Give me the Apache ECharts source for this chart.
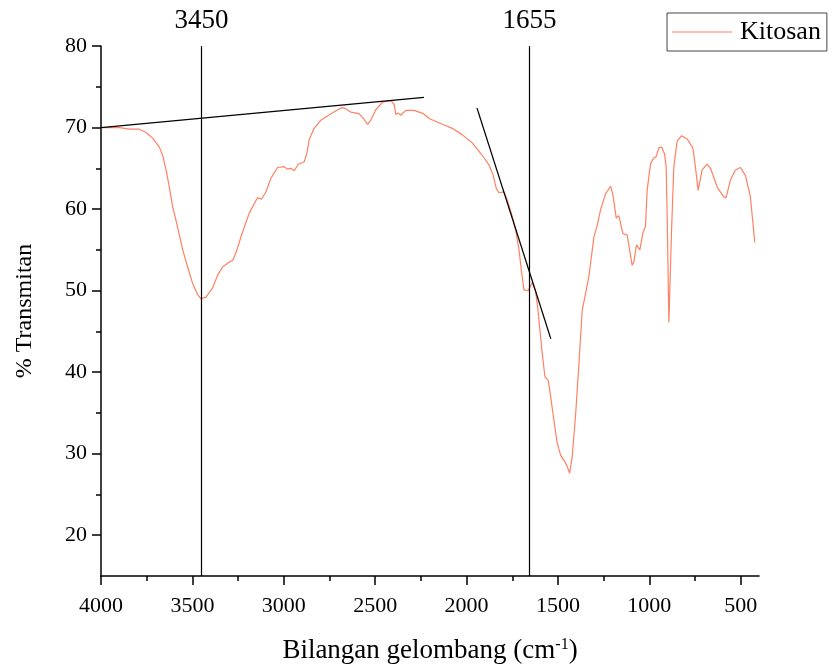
<!DOCTYPE html>
<html>
<head>
<meta charset="utf-8">
<title>Kitosan FTIR</title>
<script src="https://cdn.jsdelivr.net/npm/echarts@6/dist/echarts.min.js"></script>
<style>
    html, body { margin: 0; padding: 0; background: #fff; }
    #chart { width: 830px; height: 666px; }
</style>
</head>
<body>
<div id="chart"></div>
<script>
    // bilangan gelombang (cm-1)
    var wavenumber = [4000,3954,3899,3845,3790,3754,3717,3681,3663,3644,
        3626,3608,3581,3553,3526,3499,3471,3453,3426,3390,
        3362,3335,3298,3280,3262,3234,3189,3144,3122,3098,
        3070,3034,2998,2980,2961,2943,2921,2888,2874,2861,
        2834,2797,2742,2688,2670,2633,2588,2560,2542,2524,
        2496,2460,2414,2396,2387,2375,2360,2332,2287,2236,
        2205,2132,2078,2023,1968,1914,1877,1855,1837,1823,
        1795,1777,1750,1731,1713,1698,1686,1662,1641,1622,
        1609,1604,1586,1571,1553,1540,1522,1504,1485,1462,
        1449,1436,1422,1403,1385,1367,1345,1331,1303,1285,
        1267,1239,1212,1199,1181,1167,1145,1121,1108,1094,
        1085,1070,1052,1036,1021,1012,993,975,963,948,
        933,917,908,903,893,879,866,848,824,793,
        762,748,733,711,684,665,629,593,580,556,
        529,501,474,447,423];
    // % transmitan
    var transmitan = [70.0,70.0,70.0,69.8,69.8,69.4,68.7,67.6,66.6,64.8,
        62.7,60.3,57.8,55.0,52.9,50.9,49.5,49.0,49.2,50.3,
        51.9,52.9,53.5,53.7,54.6,56.6,59.5,61.4,61.2,62.1,
        63.8,65.1,65.2,64.9,65.0,64.7,65.5,65.8,66.8,68.5,
        69.9,70.9,71.7,72.4,72.4,71.9,71.7,71.0,70.4,70.9,
        72.2,73.1,73.3,72.8,71.6,71.8,71.5,72.1,72.1,71.7,
        71.1,70.4,69.9,69.1,68.1,66.6,65.4,64.2,62.5,62.0,
        62.1,61.1,59.1,57.4,55.0,52.1,50.1,50.0,51.0,49.9,
        47.6,46.4,42.3,39.4,39.0,37.0,34.1,31.3,29.8,29.0,
        28.4,27.6,29.6,34.9,41.1,47.6,50.1,51.7,56.6,58.0,
        59.9,61.9,62.8,61.7,58.9,59.2,57.0,56.8,55.0,53.1,
        53.5,55.6,55.0,57.0,57.9,62.3,65.6,66.3,66.4,67.5,
        67.6,66.8,65.2,59.9,46.1,57.0,65.2,68.3,69.0,68.6,
        67.5,65.2,62.3,64.8,65.5,65.0,62.7,61.5,61.4,63.6,
        64.8,65.1,64.1,61.5,55.9];

    // tick labels
    var xTicks = [4000, 3500, 3000, 2500, 2000, 1500, 1000, 500];
    var xMinorTicks = [3750, 3250, 2750, 2250, 1750, 1250, 750];
    var yTicks = [20, 30, 40, 50, 60, 70, 80];
    var yMinorTicks = [25, 35, 45, 55, 65, 75];

    // puncak yang ditandai
    var peaks = [3450, 1655];
    // garis singgung [x1, y1, x2, y2]
    var baseLine1 = [4000, 70.0, 2233, 73.7];
    var baseLine2 = [1943, 72.4, 1539, 44.1];

    var serif = 'Liberation Serif, Times New Roman, serif';

    var points = [];
    for (var i = 0; i < wavenumber.length; i++) {
        points.push([wavenumber[i], transmitan[i]]);
    }

    var markData = [];
    for (var j = 0; j < peaks.length; j++) {
        markData.push({xAxis: peaks[j], label: {formatter: String(peaks[j])}});
    }
    [baseLine1, baseLine2].forEach(function (l) {
        markData.push([
            {coord: [l[0], l[1]], label: {show: false}},
            {coord: [l[2], l[3]]}
        ]);
    });

    var plain = function (v) { return String(v); };

    var axisBase = {
        type: 'value',
        splitLine: {show: false},
        axisLine: {show: true, onZero: false, lineStyle: {color: '#000', width: 1.5}},
        axisTick: {show: true, inside: false, length: 9, lineStyle: {color: '#000', width: 1.5}}
    };

    var myChart = echarts.init(document.getElementById('chart'));
    myChart.setOption({
        animation: false,
        backgroundColor: '#fff',
        grid: {left: 101, right: 71, top: 46, bottom: 90, outerBoundsMode: 'none', containLabel: false},
        legend: {
            left: 667,
            top: 13,
            padding: [6, 6, 6, 5],
            borderColor: '#444',
            borderWidth: 1,
            icon: 'rect',
            itemWidth: 60,
            itemHeight: 1,
            itemGap: 0,
            textStyle: {fontFamily: serif, fontSize: 26, color: '#000', padding: [0, 0, 0, 3]},
            data: ['Kitosan']
        },
        xAxis: [
            echarts.util.merge({
                min: 400,
                max: 4000,
                inverse: true,
                position: 'bottom',
                axisTick: {customValues: xTicks},
                axisLabel: {customValues: xTicks, formatter: plain, margin: 19, color: '#000', fontFamily: serif, fontSize: 22},
                name: 'Bilangan gelombang (cm{sup|-1})',
                nameLocation: 'middle',
                nameGap: 61,
                nameTextStyle: {
                    fontFamily: serif, fontSize: 27, color: '#000',
                    rich: {sup: {fontFamily: serif, fontSize: 16, color: '#000', verticalAlign: 'top', padding: [0, 0, 12, 0]}}
                }
            }, axisBase),
            {
                type: 'value',
                min: 400,
                max: 4000,
                inverse: true,
                position: 'bottom',
                splitLine: {show: false},
                axisLine: {show: false},
                axisLabel: {show: false},
                axisTick: {show: true, length: 5, customValues: xMinorTicks, lineStyle: {color: '#000', width: 1.5}}
            }
        ],
        yAxis: [
            echarts.util.merge({
                min: 15,
                max: 80,
                position: 'left',
                axisTick: {customValues: yTicks},
                axisLabel: {customValues: yTicks, formatter: plain, margin: 14, color: '#000', fontFamily: serif, fontSize: 22},
                name: '% Transmitan',
                nameLocation: 'middle',
                nameGap: 64,
                nameTextStyle: {fontFamily: serif, fontSize: 24, color: '#000'}
            }, axisBase),
            {
                type: 'value',
                min: 15,
                max: 80,
                position: 'left',
                splitLine: {show: false},
                axisLine: {show: false},
                axisLabel: {show: false},
                axisTick: {show: true, length: 5, customValues: yMinorTicks, lineStyle: {color: '#000', width: 1.5}}
            }
        ],
        series: [
            {
                name: 'Kitosan',
                type: 'line',
                symbol: 'none',
                smooth: false,
                lineStyle: {color: '#FF8062', width: 1.2},
                itemStyle: {color: '#FF8062'},
                data: points,
                markLine: {
                    silent: true,
                    symbol: 'none',
                    animation: false,
                    lineStyle: {color: '#000', width: 1.2, type: 'solid'},
                    label: {position: 'end', distance: 12, color: '#000', fontFamily: serif, fontSize: 27},
                    data: markData
                }
            }
        ]
    });
</script>
</body>
</html>
